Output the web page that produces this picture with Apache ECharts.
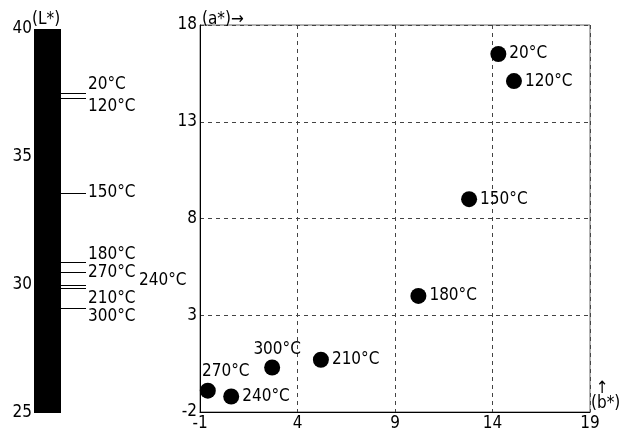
<!DOCTYPE html>
<html>
<head>
<meta charset="utf-8">
<script src="https://cdn.jsdelivr.net/npm/echarts@6/dist/echarts.min.js"></script>
<style>
html,body{margin:0;padding:0;background:#fff;}
#chart{width:625px;height:437px;}
</style>
</head>
<body>
<div id="chart"></div>
<script>
// ---- data ----
const temps   = ['20°C', '120°C', '150°C', '180°C', '210°C', '240°C', '270°C', '300°C'];
const bValues = [14.3, 15.1, 12.8, 10.2, 5.2, 0.6, -0.6, 2.7];   // b*
const aValues = [16.5, 15.1, 9.0, 4.0, 0.7, -1.2, -0.9, 0.3];    // a*
const lValues = [37.5, 37.3, 33.6, 30.9, 29.9, 30.0, 30.5, 29.1]; // L*
const lTicks  = [25, 30, 35, 40];
const bTicks  = [-1, 4, 9, 14, 19];
const aTicks  = [-2, 3, 8, 13, 18];

// ---- styles ----
const FONT = '"Liberation Sans Narrow", "DejaVu Sans Condensed", "Liberation Sans", sans-serif';
const FS = 17;
// label offsets for the L* scale (pixels)
const lLabelShift = {'20°C':[0,-8], '120°C':[0,8], '180°C':[0,-7], '240°C':[51,-4], '210°C':[0,11], '300°C':[0,9]};
// special scatter label placements
const abLabelShift = {'270°C':[18,-19], '300°C':[5,-18]};

const chart = echarts.init(document.getElementById('chart'), null, {renderer:'canvas'});

const scatterData = temps.map((t, i) => {
  const item = {name: t, value: [bValues[i], aValues[i]]};
  if (abLabelShift[t]) {
    item.label = {position: 'inside', offset: abLabelShift[t]};
  }
  return item;
});

const option = {
  backgroundColor: '#fff',
  animation: false,
  textStyle: {fontFamily: FONT, color: '#000'},
  grid: [
    {left: 34, top: 29, width: 27, height: 384, containLabel: false},
    {left: 200, top: 25, width: 390, height: 387, show: true, borderColor: '#666', borderWidth: 1}
  ],
  xAxis: [
    {gridIndex: 0, type: 'category', data: ['L*'], show: false},
    {gridIndex: 1, type: 'value', min: bTicks[0], max: bTicks[bTicks.length-1], interval: 5,
     name: ' ↑\n(b*)', nameLocation: 'end', nameGap: 1, nameMoveOverlap: false,
     nameTextStyle: {fontFamily: FONT, fontSize: FS, color: '#000', align: 'left', verticalAlign: 'bottom', lineHeight: 15, padding: [0,0,1,0]},
     axisLine: {show: true, onZero: false, lineStyle: {color: '#000', width: 1}},
     axisTick: {show: false},
     axisLabel: {fontFamily: FONT, fontSize: FS, color: '#000', margin: 3},
     splitLine: {show: true, lineStyle: {color: '#444', width: 1, type: [4, 4]}}
    }
  ],
  yAxis: [
    {gridIndex: 0, type: 'value', min: lTicks[0], max: lTicks[lTicks.length-1], interval: 5,
     name: '(L*)', nameLocation: 'end', nameGap: 1, nameMoveOverlap: false,
     nameTextStyle: {fontFamily: FONT, fontSize: FS, color: '#000', align: 'left', verticalAlign: 'bottom', lineHeight: 17, padding: [0,0,0,-2]},
     axisLine: {show: false}, axisTick: {show: false},
     axisLabel: {fontFamily: FONT, fontSize: FS, color: '#000', margin: 2},
     splitLine: {show: false}
    },
    {gridIndex: 1, type: 'value', min: aTicks[0], max: aTicks[aTicks.length-1], interval: 5,
     name: '(a*)→', nameLocation: 'end', nameGap: -3, nameMoveOverlap: false,
     nameTextStyle: {fontFamily: FONT, fontSize: FS, color: '#000', align: 'left', verticalAlign: 'bottom', lineHeight: 17, padding: [0,0,0,2]},
     axisLine: {show: true, onZero: false, lineStyle: {color: '#000', width: 1}},
     axisTick: {show: false},
     axisLabel: {fontFamily: FONT, fontSize: FS, color: '#000', margin: 3},
     splitLine: {show: true, lineStyle: {color: '#444', width: 1, type: [4, 4]}}
    }
  ],
  series: [
    {
      type: 'bar', xAxisIndex: 0, yAxisIndex: 0,
      data: [lTicks[lTicks.length-1]], barWidth: '100%', clip: true,
      itemStyle: {color: '#000'}, silent: true
    },
    {
      type: 'custom', xAxisIndex: 0, yAxisIndex: 0, clip: false,
      data: temps.map((t, i) => [0, lValues[i], i]),
      renderItem: function (params, api) {
        const idx = api.value(2);
        const t = temps[idx];
        const c = api.coord([0, api.value(1)]);
        const half = api.size([1, 0])[0] / 2;
        const x0 = c[0] + half;
        const y = Math.round(c[1]) + 0.5;
        const sh = lLabelShift[t] || [0, 0];
        return {
          type: 'group',
          children: [
            {type: 'line', shape: {x1: x0, y1: y, x2: x0 + 25, y2: y}, style: {stroke: '#000', lineWidth: 1}},
            {type: 'text', style: {x: x0 + 27 + sh[0], y: c[1] + sh[1], text: t, fill: '#000',
              font: FS + 'px ' + FONT, textAlign: 'left', textVerticalAlign: 'middle'}}
          ]
        };
      }
    },
    {
      type: 'scatter', xAxisIndex: 1, yAxisIndex: 1,
      symbol: 'circle', symbolSize: 16,
      itemStyle: {color: '#000', opacity: 1},
      label: {show: true, position: 'right', distance: 3, formatter: '{b}',
              fontFamily: FONT, fontSize: FS, color: '#000'},
      data: scatterData
    }
  ]
};
chart.setOption(option);
</script>
</body>
</html>
